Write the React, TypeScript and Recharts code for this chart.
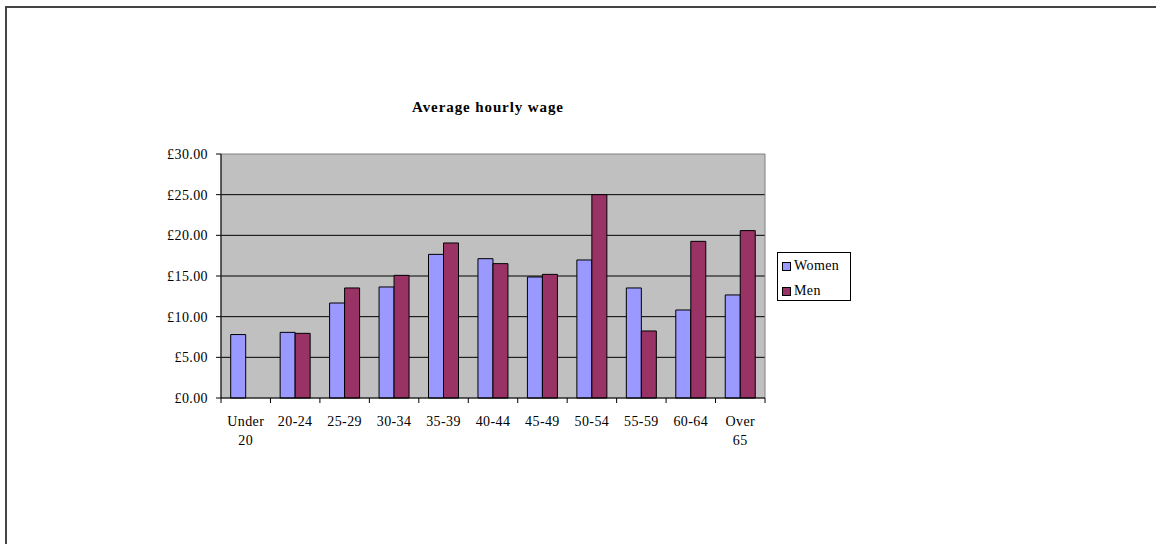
import React from "react";
import {
  BarChart,
  Bar,
  XAxis,
  YAxis,
  CartesianGrid,
  ReferenceArea,
  Legend,
} from "recharts";

// age bands and average hourly wage (£) by sex
const ageBands = [
  "Under 20",
  "20-24",
  "25-29",
  "30-34",
  "35-39",
  "40-44",
  "45-49",
  "50-54",
  "55-59",
  "60-64",
  "Over 65",
];
const womenWage = [7.8, 8.07, 11.68, 13.65, 17.66, 17.13, 14.88, 16.97, 13.53, 10.82, 12.67];
const menWage = [null, 7.95, 13.53, 15.08, 19.06, 16.52, 15.2, 25.0, 8.24, 19.26, 20.58];
const wageTicks = [0, 5, 10, 15, 20, 25, 30];
const seriesNames = ["Women", "Men"];

const data = ageBands.map((band, i) => ({
  band,
  women: womenWage[i],
  men: menWage[i],
}));

const FONT = "'Liberation Serif', 'Times New Roman', serif";
const W = 1156;
const H = 544;
const PLOT_LEFT = 221;
const PLOT_RIGHT = 765;
const PLOT_TOP = 154;
const PLOT_BOTTOM = 398;
const BAND = (PLOT_RIGHT - PLOT_LEFT) / ageBands.length;

const pounds = (v: number) => `£${v.toFixed(2)}`;

// category labels may wrap onto two lines; tick marks sit between categories
const AgeTick = (props: any) => {
  const { x, y, payload, index } = props;
  const words = String(payload.value).split(" ");
  const left = x - BAND / 2;
  const right = x + BAND / 2;
  return (
    <g>
      <line x1={left} y1={y} x2={left} y2={y + 5} stroke="#000" />
      {index === ageBands.length - 1 && (
        <line x1={right} y1={y} x2={right} y2={y + 5} stroke="#000" />
      )}
      {words.map((w, i) => (
        <text
          key={i}
          x={x}
          y={y + 28 + i * 19}
          textAnchor="middle"
          fontFamily={FONT}
          fontSize={14}
          letterSpacing={0.4}
          fill="#000"
        >
          {w}
        </text>
      ))}
    </g>
  );
};

const LegendBox = (props: any) => {
  const items = [...(props.payload || [])].sort(
    (a: any, b: any) => seriesNames.indexOf(a.value) - seriesNames.indexOf(b.value)
  );
  return (
    <div
      style={{
        border: "1px solid #000",
        background: "#fff",
        width: 74,
        height: 49,
        boxSizing: "border-box",
        paddingTop: 4,
        fontFamily: FONT,
        fontSize: 14,
        letterSpacing: 0.4,
        color: "#000",
      }}
    >
      {items.map((p: any) => (
        <div
          key={p.value}
          style={{ display: "flex", alignItems: "center", height: 18, marginBottom: 7, paddingLeft: 4 }}
        >
          <span
            style={{
              display: "inline-block",
              width: 7,
              height: 7,
              background: p.color,
              border: "1px solid #000",
              marginRight: 3,
            }}
          />
          <span>{p.value}</span>
        </div>
      ))}
    </div>
  );
};

export default function App() {
  return (
    <div style={{ position: "absolute", left: 0, top: 0, width: W, height: H, background: "#fff" }}>
      <div
        style={{
          position: "absolute",
          left: 5,
          top: 6,
          width: W - 5,
          height: H - 6,
          borderLeft: "2px solid #444",
          borderTop: "2px solid #444",
          boxSizing: "border-box",
        }}
      />
      <div
        style={{
          position: "absolute",
          left: 0,
          width: 976,
          top: 99,
          textAlign: "center",
          fontFamily: FONT,
          fontWeight: "bold",
          fontSize: 15,
          letterSpacing: 0.9,
        }}
      >
        Average hourly wage
      </div>
      <div style={{ position: "absolute", left: 0, top: 0 }}>
        <BarChart
          width={W}
          height={H}
          data={data}
          margin={{ top: PLOT_TOP, right: W - PLOT_RIGHT, bottom: H - PLOT_BOTTOM - 40, left: 0 }}
          barCategoryGap="19.6%"
          barGap={0}
        >
          <CartesianGrid
            vertical={false}
            horizontalValues={[5, 10, 15, 20, 25]}
            stroke="#000"
            fill="#C0C0C0"
            fillOpacity={1}
          />
          <ReferenceArea y1={0} y2={30} fill="none" stroke="#808080" strokeWidth={1} />
          <XAxis
            dataKey="band"
            height={40}
            stroke="#000"
            tickLine={false}
            tickSize={0}
            tickMargin={0}
            interval={0}
            tick={<AgeTick />}
          />
          <YAxis
            width={PLOT_LEFT}
            domain={[0, 30]}
            ticks={wageTicks}
            stroke="#000"
            tickSize={5}
            tickMargin={8}
            tickFormatter={pounds}
            tick={{ fill: "#000", fontFamily: FONT, fontSize: 14, letterSpacing: 0.4 }}
          />
          <Bar dataKey="women" name="Women" fill="#9999FF" stroke="#000" strokeWidth={1} isAnimationActive={false} />
          <Bar dataKey="men" name="Men" fill="#993366" stroke="#000" strokeWidth={1} isAnimationActive={false} />
          <Legend
            layout="horizontal"
            verticalAlign="middle"
            align="center"
            wrapperStyle={{ left: 777, top: 252, width: 74, height: 49 }}
            content={<LegendBox />}
          />
        </BarChart>
      </div>
    </div>
  );
}
